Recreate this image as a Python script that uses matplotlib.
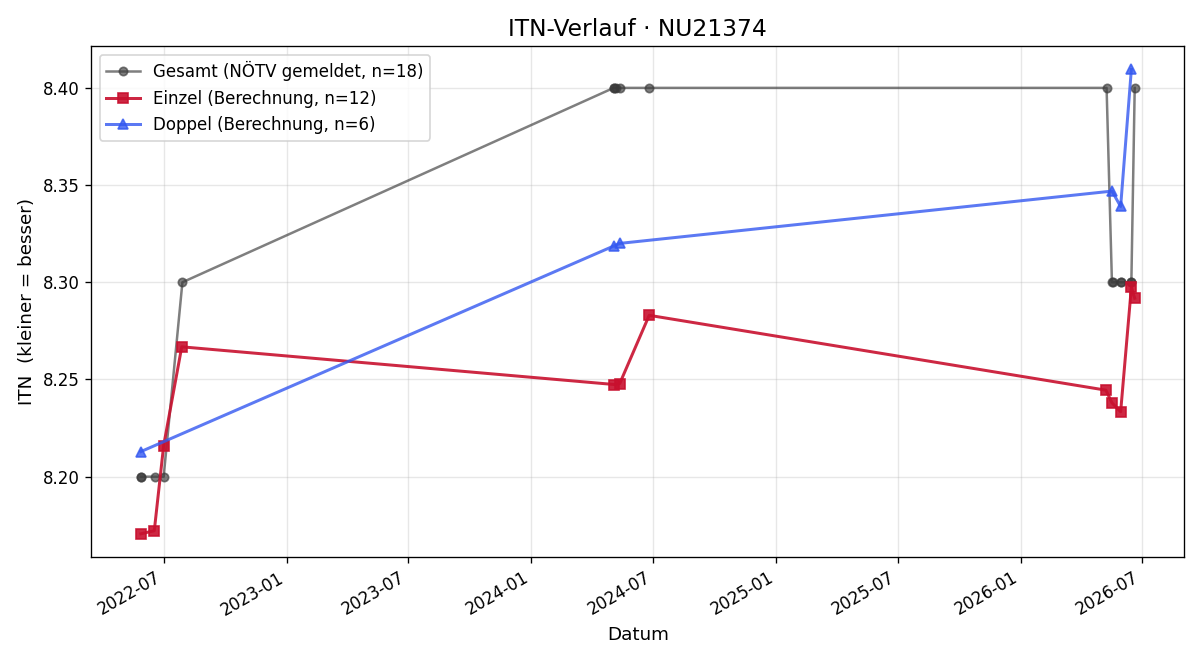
import pandas as pd
import matplotlib
matplotlib.use("Agg")
import matplotlib.pyplot as plt
import matplotlib.dates as mdates

# Gesamt (NÖTV gemeldet)
ges_dates = ["2022-05-28", "2022-05-28", "2022-06-18", "2022-07-01", "2022-07-29",
             "2024-05-03", "2024-05-03", "2024-05-07", "2024-05-12", "2024-06-25",
             "2026-05-09", "2026-05-17", "2026-05-18", "2026-05-30", "2026-05-30",
             "2026-06-15", "2026-06-15", "2026-06-20"]
ges_itn = [8.20, 8.20, 8.20, 8.20, 8.30,
           8.40, 8.40, 8.40, 8.40, 8.40,
           8.40, 8.30, 8.30, 8.30, 8.30,
           8.30, 8.30, 8.40]

# Einzel (Berechnung)
ein_dates = ["2022-05-28", "2022-06-17", "2022-07-01", "2022-07-28",
             "2024-05-04", "2024-05-12", "2024-06-25",
             "2026-05-08", "2026-05-17", "2026-05-30", "2026-06-15", "2026-06-20"]
ein_itn = [8.1706, 8.1722, 8.2160, 8.2668,
           8.2474, 8.2479, 8.2830,
           8.2445, 8.2380, 8.2334, 8.2974, 8.2918]

# Doppel (Berechnung)
dop_dates = ["2022-05-28", "2024-05-04", "2024-05-12", "2026-05-17", "2026-05-30", "2026-06-15"]
dop_itn = [8.2129, 8.3188, 8.3200, 8.3469, 8.3390, 8.4095]

fig, ax = plt.subplots(figsize=(10, 5.5), dpi=120)
fig.subplots_adjust(left=0.076, right=0.987, top=0.930, bottom=0.156)

ax.plot(pd.to_datetime(ges_dates), ges_itn, "o-", color="#3a3a3a", alpha=0.65,
        linewidth=1.5, markersize=5, label="Gesamt (NÖTV gemeldet, n=18)")
ax.plot(pd.to_datetime(ein_dates), ein_itn, "s-", color="#c8102e", alpha=0.9,
        linewidth=1.8, markersize=6, label="Einzel (Berechnung, n=12)")
ax.plot(pd.to_datetime(dop_dates), dop_itn, "^-", color="#3358f0", alpha=0.8,
        linewidth=1.8, markersize=6, label="Doppel (Berechnung, n=6)")

ax.set_title("ITN-Verlauf · NU21374", fontsize=14)
ax.set_xlabel("Datum", fontsize=11)
ax.set_ylabel("ITN  (kleiner = besser)", fontsize=11)
ax.grid(True, alpha=0.3)
ax.legend(loc="upper left", fontsize=10)

ax.xaxis.set_major_locator(mdates.MonthLocator(bymonth=[1, 7]))
ax.xaxis.set_major_formatter(mdates.DateFormatter("%Y-%m"))
ax.tick_params(labelsize=10)
for lbl in ax.get_xticklabels():
    lbl.set_rotation(30)
    lbl.set_ha("right")

fig.savefig("out.png")
